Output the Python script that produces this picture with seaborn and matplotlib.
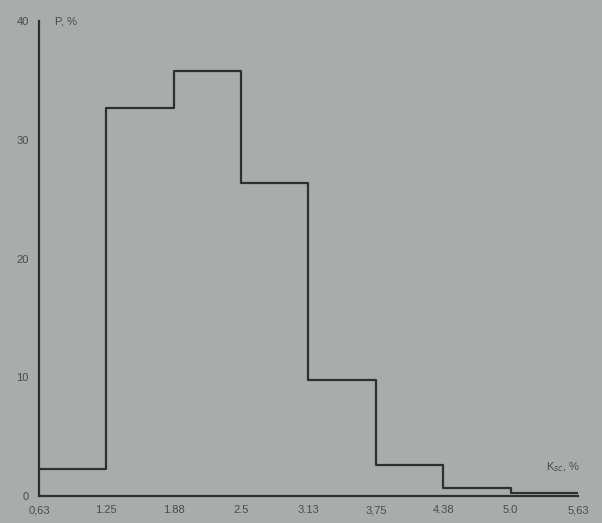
import matplotlib
matplotlib.use("Agg")
import matplotlib.pyplot as plt
import seaborn as sns

# bin edges of K_sc, % and frequency P, %
bin_edges = [0.63, 1.255, 1.88, 2.505, 3.13, 3.755, 4.38, 5.005, 5.63]
tick_labels = ["0,63", "1.25", "1.88", "2.5", "3.13", "3,75", "4.38", "5.0", "5,63"]
p_values = [2.3, 32.7, 35.8, 26.4, 9.8, 2.6, 0.7, 0.25]
y_ticks = [0, 10, 20, 30, 40]

sns.set_theme(style="white")
plt.rcParams['font.family'] = ['Liberation Sans', 'DejaVu Sans']

bg = "#a9acaa"
ink = "#2e302f"
txt = "#4a4c4b"

fig = plt.figure(figsize=(6.02, 5.23), dpi=100, facecolor=bg)
ax = fig.add_axes([0.0648, 0.0516, 0.8953, 0.908])
ax.set_facecolor(bg)

centers = [(a + b) / 2 for a, b in zip(bin_edges[:-1], bin_edges[1:])]
sns.histplot(x=centers, weights=p_values, bins=bin_edges, element="step",
             fill=False, color=ink, linewidth=1.6, ax=ax)

ax.set_xlim(bin_edges[0], bin_edges[-1])
ax.set_ylim(0, 40)
ax.set_xticks(bin_edges)
ax.set_xticklabels(tick_labels)
ax.set_yticks(y_ticks)
ax.set_xlabel("")
ax.set_ylabel("")

for side in ["top", "right"]:
    ax.spines[side].set_visible(False)
for side in ["left", "bottom"]:
    ax.spines[side].set_color(ink)
    ax.spines[side].set_linewidth(1.6)

ax.tick_params(axis="both", direction="inout", length=5, width=1,
               color=ink, labelsize=8, labelcolor=txt)
ax.tick_params(axis="x", pad=4)
ax.tick_params(axis="y", pad=5)

ax.text(0.03, 1.0, "P, %", transform=ax.transAxes, fontsize=8,
        color=txt, va="center", ha="left")
ax.text(0.94, 0.06, r"K$_{sc}$, %", transform=ax.transAxes, fontsize=8,
        color=txt, va="center", ha="left")

plt.savefig("out.png", dpi=100, facecolor=bg)
